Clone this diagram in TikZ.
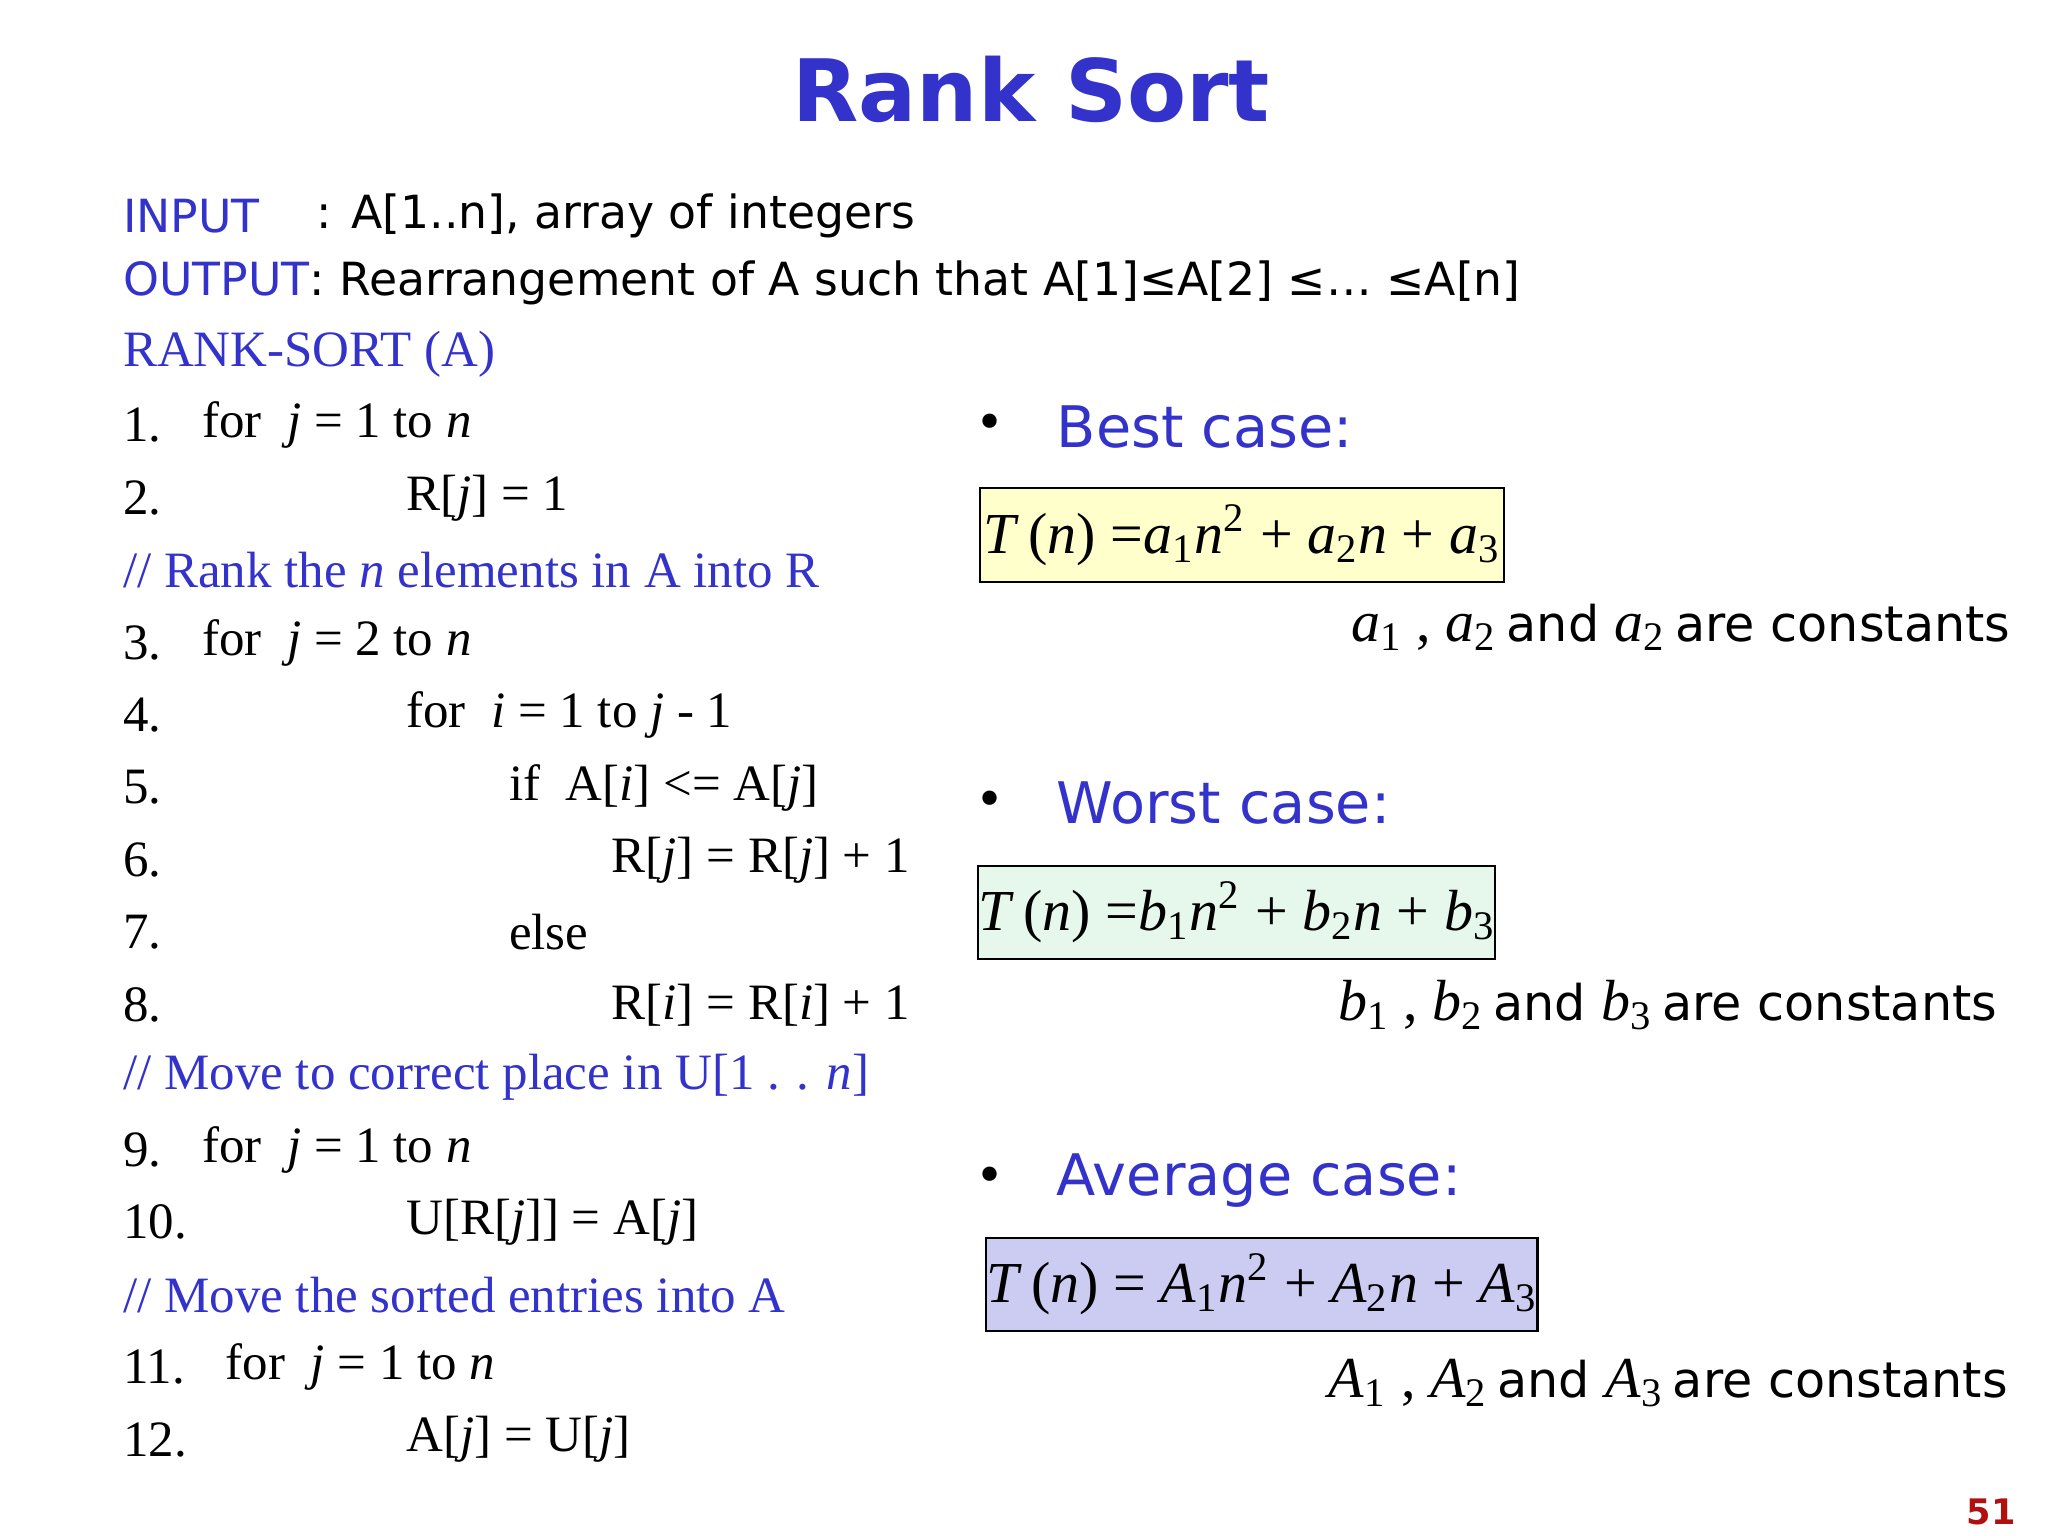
\documentclass[tikz,border=0pt]{standalone}
\usepackage{fontspec}
\setmainfont{Liberation Serif}
\newfontfamily\vsans{DejaVu Sans}
\definecolor{tblue}{HTML}{3333CC}
\definecolor{byel}{HTML}{FFFFCC}
\definecolor{bgrn}{HTML}{E6F7EC}
\definecolor{blav}{HTML}{CCCCF2}
\definecolor{pnum}{HTML}{B01010}
\tikzset{
 code/.style={anchor=west,inner sep=0pt,font=\fontsize{14.5}{16}\selectfont},
 ctext/.style={code,text=tblue},
 stxt/.style={anchor=west,inner sep=0pt,font=\vsans\fontsize{13}{15}\selectfont},
 casehd/.style={anchor=west,inner sep=0pt,text=tblue,font=\vsans\fontsize{16.3}{20}\selectfont},
 bul/.style={inner sep=0pt,font=\vsans\fontsize{14}{16}\selectfont},
 fbox/.style={draw=black,line width=0.6pt,anchor=north west,inner sep=0pt,font=\fontsize{16.5}{20}\selectfont},
 cst/.style={anchor=east,inner sep=0pt,font=\vsans\fontsize{14}{18}\selectfont},
}
\newcommand{\vi}[1]{\textit{#1}}
\newcommand{\mth}{\rmfamily\fontsize{16.5}{20}\selectfont}
\newcommand{\sns}{\vsans\fontsize{14}{18}\selectfont}
\begin{document}
\begin{tikzpicture}[x=0.01317cm,y=-0.01317cm]
\useasboundingbox (0,0) rectangle (1555,1166);
\node (title) at (783,68) [inner sep=0pt,text=tblue,font=\vsans\bfseries\fontsize{24.5}{30}\selectfont] {Rank Sort};
\node (in) at (93,164) [stxt] {\textcolor{tblue}{INPUT}};
\node (in2) at (240,164) [stxt] {: A[1..n], array of integers};
\node (out) at (93,215) [stxt] {\textcolor{tblue}{OUTPUT}: Rearrangement of A such that A[1]≤A[2] ≤… ≤A[n]};
\node (rs) at (93,269) [ctext] {RANK-SORT (A)};
\foreach \n/\y in {1/323,2/378,3/488,4/543,5/598,6/653,7/708,8/763,9/873,10/928,11/1038,12/1093}{\node (n\n) at (93,\y) [code] {\n.};}
\node (l1) at (153,323) [code] {for \ \vi{j} = 1 to \vi{n}};
\node (l2) at (308,378) [code] {R[\vi{j}] = 1};
\node (c1) at (93,433) [ctext] {// Rank the \vi{n} elements in A into R};
\node (l3) at (153,488) [code] {for \ \vi{j} = 2 to \vi{n}};
\node (l4) at (308,543) [code] {for \ \vi{i} = 1 to \vi{j} - 1};
\node (l5) at (386,598) [code] {if \ A[\vi{i}] <= A[\vi{j}]};
\node (l6) at (464,653) [code] {R[\vi{j}] = R[\vi{j}] + 1};
\node (l7) at (386,708) [code] {else};
\node (l8) at (464,763) [code] {R[\vi{i}] = R[\vi{i}] + 1};
\node (c2) at (93,818) [ctext] {// Move to correct place in U[1 . . \vi{n}]};
\node (l9) at (153,873) [code] {for \ \vi{j} = 1 to \vi{n}};
\node (l10) at (308,928) [code] {U[R[\vi{j}]] = A[\vi{j}]};
\node (c3) at (93,983) [ctext] {// Move the sorted entries into A};
\node (l11) at (171,1038) [code] {for \ \vi{j} = 1 to \vi{n}};
\node (l12) at (308,1093) [code] {A[\vi{j}] = U[\vi{j}]};
% cases
\node (b1) at (752,324) [bul] {•};
\node (h1) at (802,324) [casehd] {Best case:};
\node (f1) at (743,370) [fbox,fill=byel,minimum width=398*0.01317cm,minimum height=71*0.01317cm] {\vi{T}\,(\vi{n}) =\vi{a}\textsubscript{1}\vi{n}\textsuperscript{2} + \vi{a}\textsubscript{2}\vi{n} + \vi{a}\textsubscript{3}};
\node (k1) at (1527,476) [cst] {\mth\vi{a}\textsubscript{1} , \vi{a}\textsubscript{2}\,\sns and \mth\vi{a}\textsubscript{2}\,\sns are constants};
\node (b2) at (752,610) [bul] {•};
\node (h2) at (802,610) [casehd] {Worst case:};
\node (f2) at (742,657) [fbox,fill=bgrn,minimum width=386*0.01317cm,minimum height=70*0.01317cm] {\vi{T}\,(\vi{n}) =\vi{b}\textsubscript{1}\vi{n}\textsuperscript{2} + \vi{b}\textsubscript{2}\vi{n} + \vi{b}\textsubscript{3}};
\node (k2) at (1517,763) [cst] {\mth\vi{b}\textsubscript{1} , \vi{b}\textsubscript{2}\,\sns and \mth\vi{b}\textsubscript{3}\,\sns are constants};
\node (b3) at (752,896) [bul] {•};
\node (h3) at (802,896) [casehd] {Average case:};
\node (f3) at (748,939) [fbox,fill=blav,minimum width=413*0.01317cm,minimum height=71*0.01317cm] {\vi{T}\,(\vi{n}) = \vi{A}\textsubscript{1}\vi{n}\textsuperscript{2} + \vi{A}\textsubscript{2}\vi{n} + \vi{A}\textsubscript{3}};
\node (k3) at (1525,1050) [cst] {\mth\vi{A}\textsubscript{1} , \vi{A}\textsubscript{2}\,\sns and \mth\vi{A}\textsubscript{3}\,\sns are constants};
\node (pg) at (1512,1148) [inner sep=0pt,text=pnum,font=\vsans\bfseries\fontsize{10}{12}\selectfont] {51};
\end{tikzpicture}
\end{document}
